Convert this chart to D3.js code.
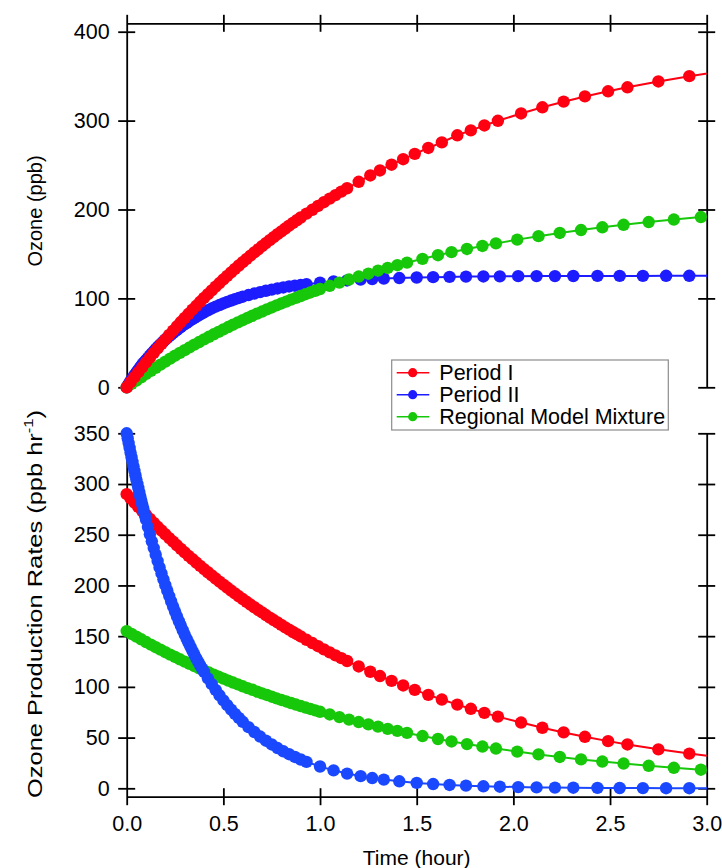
<!DOCTYPE html>
<html>
<head>
<meta charset="utf-8">
<script src="https://cdn.jsdelivr.net/npm/d3@7"></script>
<style>
  body { margin: 0; background: #fff; }
  svg { font-family: "Liberation Sans", Arial, Helvetica, sans-serif; }
  .axis path, .axis line { stroke: #000; stroke-width: 1.8; }
  .axis text { font-size: 21.5px; fill: #000; }
</style>
</head>
<body>
<div id="chart"></div>
<script>
const seriesNames = ["Period I", "Period II", "Regional Model Mixture"];

// Period I (red)
const timeP1 = [0,0.02,0.04,0.06,0.08,0.10,0.12,0.14,0.16,0.18,0.20,0.22,0.24,0.26,0.28,0.30,0.32,0.34,0.36,0.38,0.40,0.42,0.44,0.46,0.48,0.50,
  0.52,0.54,0.56,0.58,0.60,0.62,0.64,0.66,0.68,0.70,0.72,0.74,0.76,0.78,0.80,0.82,0.84,0.86,0.88,0.90,
  0.93,0.96,0.99,1.02,1.05,1.08,1.11,1.14,
  1.20,1.26,1.31,1.37,1.43,1.49,1.56,1.63,1.71,1.78,1.85,1.92,2.04,2.15,2.26,2.37,2.49,2.59,2.75,2.91,3.08];
const ozoneP1 = [0,5.8,11.4,17.0,22.5,28.0,33.3,38.6,43.8,48.9,53.9,58.9,63.8,68.6,73.4,78.1,82.7,87.3,91.7,96.2,100.5,104.8,109.0,113.2,117.3,121.4,
  125.3,129.3,133.1,137.0,140.7,144.4,148.1,151.7,155.2,158.7,162.2,165.5,168.9,172.2,175.4,178.6,181.8,184.9,187.9,191.0,
  195.4,199.7,204.0,208.2,212.2,216.2,220.1,223.9,
  231.2,238.3,243.9,250.4,256.6,262.6,269.2,275.5,283.5,289.0,294.5,299.8,308.0,315.0,321.3,327.2,333.0,337.5,344.0,350.0,355.5];
const rateP1 = [290.0,285.8,281.6,277.5,273.4,269.5,265.5,261.6,257.8,254.1,250.4,246.7,243.1,239.6,236.1,232.6,229.2,225.9,222.6,219.3,216.1,213.0,209.9,206.8,203.8,200.8,
  197.9,195.0,192.2,189.3,186.6,183.9,181.2,178.5,175.9,173.4,170.8,168.3,165.9,163.5,161.1,158.7,156.4,154.1,151.9,149.7,
  146.4,143.2,140.1,137.0,134.0,131.1,128.3,125.5,
  120.1,114.9,110.7,105.9,101.4,97.0,92.1,87.5,82.5,78.4,74.4,70.7,64.8,59.7,55.1,50.8,46.5,43.2,38.4,34.2,30.2];

// Period II (blue)
const timeP2 = [0,0.005,0.010,0.015,0.020,0.025,0.030,0.035,0.040,0.045,0.050,0.055,0.060,0.065,0.070,0.075,0.080,0.085,0.090,0.095,0.100,
  0.11,0.12,0.13,0.14,0.15,0.16,0.17,0.18,0.19,0.20,0.21,0.22,0.23,0.24,0.25,0.26,0.27,0.28,0.29,0.30,
  0.31,0.32,0.33,0.34,0.35,0.36,0.37,0.38,0.39,0.40,
  0.42,0.44,0.46,0.48,0.50,0.52,0.54,0.56,0.58,0.60,
  0.63,0.66,0.69,0.72,0.75,0.78,0.81,0.84,0.87,0.90,0.93,
  1.00,1.07,1.14,1.21,1.27,1.33,1.41,1.50,1.585,1.67,1.755,1.845,1.93,2.025,2.12,2.215,2.31,2.435,2.55,2.67,2.79,2.91,3.03];
const ozoneP2 = [0,1.7,3.4,5.1,6.8,8.4,10.1,11.7,13.2,14.8,16.3,17.8,19.3,20.8,22.2,23.7,25.1,26.5,27.8,29.2,30.5,
  33.1,35.7,38.1,40.5,42.9,45.2,47.4,49.5,51.6,53.6,55.6,57.5,59.4,61.2,63.0,64.7,66.4,68.0,69.6,71.1,
  72.6,74.0,75.5,76.8,78.2,79.5,80.7,82.0,83.2,84.3,
  86.6,88.7,90.7,92.5,94.3,96.0,97.6,99.1,100.5,101.9,
  103.8,105.5,107.1,108.6,109.9,111.2,112.3,113.4,114.3,115.2,116.0,
  117.7,119.1,120.2,121.1,121.8,122.3,122.9,123.5,123.9,124.2,124.5,124.7,124.8,125.0,125.1,125.1,125.2,125.3,125.3,125.3,125.4,125.4,125.4];
const rateP2 = [350.0,345.2,340.4,335.7,331.0,326.4,321.9,317.4,313.0,308.7,304.4,300.2,296.1,292.0,287.9,283.9,280.0,276.1,272.3,268.5,264.8,
  257.5,250.4,243.5,236.8,230.3,224.0,217.8,211.8,206.0,200.3,194.8,189.5,184.2,179.2,174.2,169.4,164.8,160.3,155.9,151.6,
  147.4,143.3,139.4,135.6,131.8,128.2,124.7,121.2,117.9,114.7,
  108.4,102.6,97.0,91.7,86.7,82.0,77.6,73.4,69.4,65.6,
  60.3,55.5,51.0,46.9,43.2,39.7,36.5,33.6,30.9,28.4,26.1,
  21.5,17.7,14.5,12.0,10.1,8.6,6.9,5.3,4.2,3.3,2.6,2.0,1.6,1.2,0.9,0.7,0.6,0.4,0.3,0.2,0.1,0.1,0.1];

// Regional Model Mixture (green)
const timeRM = [0,0.025,0.050,0.075,0.100,0.125,0.150,0.175,0.200,0.225,0.250,0.275,0.300,0.325,0.350,0.375,0.400,0.425,0.450,0.475,0.500,
  0.525,0.550,0.575,0.600,0.625,0.650,0.675,0.700,0.725,0.750,0.775,0.800,0.825,0.850,0.875,0.900,0.925,0.950,0.975,1.000,
  1.05,1.10,1.15,1.20,1.25,1.30,1.35,1.40,1.45,
  1.53,1.61,1.68,1.76,1.84,1.91,2.02,2.13,2.24,2.35,2.46,2.57,2.70,2.83,2.97,3.11];
const ozoneRM = [0,3.8,7.6,11.3,15.0,18.5,22.0,25.5,28.9,32.2,35.5,38.7,41.8,44.9,48.0,50.9,53.9,56.8,59.6,62.4,65.1,
  67.8,70.4,73.0,75.5,78.0,80.5,82.9,85.2,87.6,89.8,92.1,94.3,96.4,98.6,100.6,102.7,104.7,106.7,108.6,110.5,
  114.2,117.8,121.2,124.6,127.8,131.2,134.3,137.3,140.2,
  144.5,148.6,152.0,155.6,159.0,161.9,166.1,170.0,173.6,176.9,180.0,182.8,185.9,188.7,191.5,194.1];
const rateRM = [155.0,152.2,149.5,146.9,144.2,141.7,139.1,136.7,134.2,131.8,129.5,127.2,124.9,122.7,120.5,118.3,116.2,114.1,112.1,110.1,108.1,
  106.2,104.3,102.5,100.6,98.8,97.1,95.3,93.6,92.0,90.3,88.7,87.1,85.6,84.1,82.6,81.1,79.6,78.2,76.8,75.4,
  72.8,70.2,67.7,65.3,63.0,60.8,58.6,56.6,54.6,
  51.5,48.6,46.2,43.6,41.2,39.2,36.2,33.4,30.9,28.5,26.4,24.4,22.2,20.2,18.3,16.5];

const timeTicks = [0, 0.5, 1.0, 1.5, 2.0, 2.5, 3.0];
const ozoneTicks = [0, 100, 200, 300, 400];
const rateTicks = [0, 50, 100, 150, 200, 250, 300, 350];

const width = 722, height = 868;
const left = 126.7, right = 706.7;

const svg = d3.select("#chart").append("svg")
  .attr("width", width).attr("height", height);

const x = d3.scaleLinear([0, 3], [left, right]);
const yTop = d3.scaleLinear([0, 400], [387.3, 31.7]);
const yBot = d3.scaleLinear([0, 350], [788.3, 433.3]);

svg.append("clipPath").attr("id", "clip")
  .append("rect").attr("x", 0).attr("y", 0).attr("width", right).attr("height", height);

function pairs(t, v) { return t.map((d, i) => [d, v[i]]); }

const red = "#ff0012", green = "#17c80a";
const topSeries = [
  {color: "#1c1cff", pts: pairs(timeP2, ozoneP2)},
  {color: green, pts: pairs(timeRM, ozoneRM)},
  {color: red, pts: pairs(timeP1, ozoneP1)}
];
const botSeries = [
  {color: red, pts: pairs(timeP1, rateP1)},
  {color: green, pts: pairs(timeRM, rateRM)},
  {color: "#1a48ff", pts: pairs(timeP2, rateP2)}
];

function drawSeries(list, y) {
  const line = d3.line().x(d => x(d[0])).y(d => y(d[1]));
  const g = svg.append("g").attr("clip-path", "url(#clip)");
  list.forEach(s => {
    g.append("path").datum(s.pts)
      .attr("fill", "none").attr("stroke", s.color).attr("stroke-width", 2)
      .attr("d", line);
    g.append("g").selectAll("circle").data(s.pts).join("circle")
      .attr("cx", d => x(d[0])).attr("cy", d => y(d[1]))
      .attr("r", 6.2).attr("fill", s.color);
  });
}

// ticks cross the axis line on both sides
function crossTicks(g, dir) {
  g.selectAll(".tick line").each(function() {
    const l = d3.select(this);
    if (dir === "v") l.attr("x1", -8.5).attr("x2", 8.5);
    else l.attr("y1", -8.5).attr("y2", 8.5);
  });
}

// top panel axes
svg.append("g").attr("class", "axis")
  .attr("transform", `translate(${left},0)`)
  .call(d3.axisLeft(yTop).tickValues(ozoneTicks).tickSizeInner(8).tickSizeOuter(0).tickPadding(9).tickFormat(d3.format("d")))
  .call(g => crossTicks(g, "v"));
svg.append("g").attr("class", "axis")
  .attr("transform", `translate(${right},0)`)
  .call(d3.axisRight(yTop).tickValues(ozoneTicks).tickSizeOuter(0).tickFormat(""))
  .call(g => crossTicks(g, "v"));
svg.append("g").attr("class", "axis")
  .attr("transform", "translate(0,23.3)")
  .call(d3.axisTop(x).tickValues(timeTicks).tickSizeOuter(0).tickFormat(""))
  .call(g => crossTicks(g, "h"));

// bottom panel axes
svg.append("g").attr("class", "axis")
  .attr("transform", `translate(${left},0)`)
  .call(d3.axisLeft(yBot).tickValues(rateTicks).tickSizeInner(8).tickSizeOuter(0).tickPadding(9).tickFormat(d3.format("d")))
  .call(g => crossTicks(g, "v"));
svg.append("g").attr("class", "axis")
  .attr("transform", `translate(${right},0)`)
  .call(d3.axisRight(yBot).tickValues(rateTicks).tickSizeOuter(0).tickFormat(""))
  .call(g => crossTicks(g, "v"));
svg.append("g").attr("class", "axis")
  .attr("transform", "translate(0,796.7)")
  .call(d3.axisBottom(x).tickValues(timeTicks).tickSizeInner(8).tickSizeOuter(0).tickPadding(11).tickFormat(d3.format(".1f")))
  .call(g => crossTicks(g, "h"));

drawSeries(topSeries, yTop);
drawSeries(botSeries, yBot);

// axis titles
svg.append("text")
  .attr("transform", "translate(42,211) rotate(-90)")
  .attr("text-anchor", "middle").attr("font-size", 20)
  .text("Ozone (ppb)");
const t2 = svg.append("text")
  .attr("transform", "translate(42,604) rotate(-90)")
  .attr("text-anchor", "middle").attr("font-size", 20)
  .attr("textLength", 388).attr("lengthAdjust", "spacingAndGlyphs");
t2.append("tspan").text("Ozone Production Rates (ppb hr");
t2.append("tspan").attr("font-size", 13).attr("dy", -9).text("-1");
t2.append("tspan").attr("dy", 9).text(")");
svg.append("text")
  .attr("x", (left + right) / 2).attr("y", 865)
  .attr("text-anchor", "middle").attr("font-size", 21)
  .text("Time (hour)");

// legend
const legendColors = [red, "#1c1cff", green];
const legend = svg.append("g").attr("transform", "translate(391.7,360)");
legend.append("rect").attr("width", 276.6).attr("height", 70)
  .attr("fill", "#fff").attr("stroke", "#8c8c8c").attr("stroke-width", 1.2);
const item = legend.selectAll("g.item").data(seriesNames).join("g")
  .attr("class", "item")
  .attr("transform", (d, i) => `translate(0,${12.7 + i * 22})`);
item.append("line").attr("x1", 5).attr("x2", 37.6)
  .attr("stroke", (d, i) => legendColors[i]).attr("stroke-width", 1.5);
item.append("circle").attr("cx", 21).attr("r", 4.6)
  .attr("fill", (d, i) => legendColors[i]);
item.append("text").attr("x", 47.6).attr("dy", "0.36em")
  .attr("font-size", 21.5).text(d => d);
</script>
</body>
</html>
